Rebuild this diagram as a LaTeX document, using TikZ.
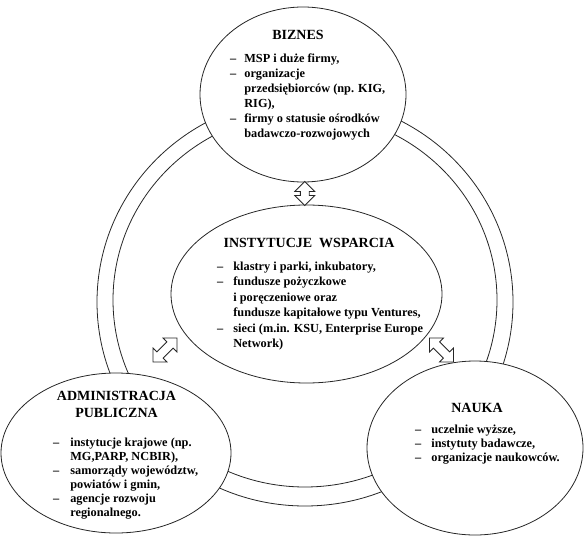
\documentclass[tikz,border=0pt]{standalone}
\usepackage{fontspec}
\setmainfont{Liberation Serif}
\usetikzlibrary{shapes.geometric,shapes.arrows,calc}
\begin{document}
\begin{tikzpicture}[x=1pt,y=-1pt,
  outline/.style={draw=black!85, line width=0.8pt},
  sector/.style={outline, ellipse, fill=white, inner sep=0pt},
  dblarrow/.style={outline, fill=white, shape=double arrow, inner sep=4pt,
    minimum width=0pt, minimum height=#1, double arrow head extend=5.5pt},
  heading/.style={font=\bfseries\fontsize{14}{17}\selectfont, inner sep=0pt, anchor=base},
  items/.style={font=\bfseries\fontsize{12.3}{#1}\selectfont, inner sep=0pt, anchor=base west},
]
\useasboundingbox (0,0) rectangle (585,537);

% the ring that links the four sectors
\draw[outline] (305,302) ellipse [x radius=208, y radius=204];
\draw[outline] (305,300) ellipse [x radius=192, y radius=187];

% sectors
\node[sector, minimum width=206pt, minimum height=175pt] (biz) at (303,94.5) {};
\node[sector, minimum width=271pt, minimum height=178pt] (inst) at (306.5,294) {};
\node[sector, minimum width=230pt, minimum height=160pt] (adm) at (116,453) {};
\node[sector, minimum width=216pt, minimum height=174pt] (nauka) at (475,448) {};

% two-way links between the support institutions and the other sectors
\node[dblarrow=24pt, rotate=90] (linkbiz) at ($(biz.south)!0.5!(inst.north)$) {};
\node[dblarrow=34pt, rotate=45] (linkadm) at (165,350) {};
\node[dblarrow=34pt, rotate=-45] (linknauka) at (441.5,350) {};

% BIZNES
\node[heading] (bizh) at (298,40) {BIZNES};
\node[items=15pt] (bizl) at (230,63) {\begin{tabular}[t]{@{}l@{\hspace{8pt}}l@{}}
–&MSP i duże firmy,\\
–&organizacje\\
 &przedsiębiorców (np. KIG,\\
 &RIG),\\
–&firmy o statusie ośrodków\\
 &badawczo-rozwojowych
\end{tabular}};

% INSTYTUCJE WSPARCIA
\node[heading] (insth) at (309,247) {INSTYTUCJE~ WSPARCIA};
\node[items=15.5pt] (instl) at (217,270) {\begin{tabular}[t]{@{}l@{\hspace{10pt}}l@{}}
–&klastry i parki, inkubatory,\\
–&fundusze pożyczkowe\\
 &i poręczeniowe oraz\\
 &fundusze kapitałowe typu Ventures,\\
–&sieci (m.in. KSU, Enterprise Europe\\
 &Network)
\end{tabular}};

% ADMINISTRACJA PUBLICZNA
\node[heading] (admh) at (116.5,400) {\begin{tabular}[t]{@{}c@{}}ADMINISTRACJA\\PUBLICZNA\end{tabular}};
\node[items=14pt] (adml) at (53,446) {\begin{tabular}[t]{@{}l@{\hspace{11pt}}l@{}}
–&instytucje krajowe (np.\\
 &MG,PARP, NCBIR),\\
–&samorządy województw,\\
 &powiatów i gmin,\\
–&agencje rozwoju\\
 &regionalnego.
\end{tabular}};

% NAUKA
\node[heading] (naukah) at (477,412) {NAUKA};
\node[items=14pt] (naukal) at (415,433) {\begin{tabular}[t]{@{}l@{\hspace{10pt}}l@{}}
–&uczelnie wyższe,\\
–&instytuty badawcze,\\
–&organizacje naukowców.
\end{tabular}};
\end{tikzpicture}
\end{document}
